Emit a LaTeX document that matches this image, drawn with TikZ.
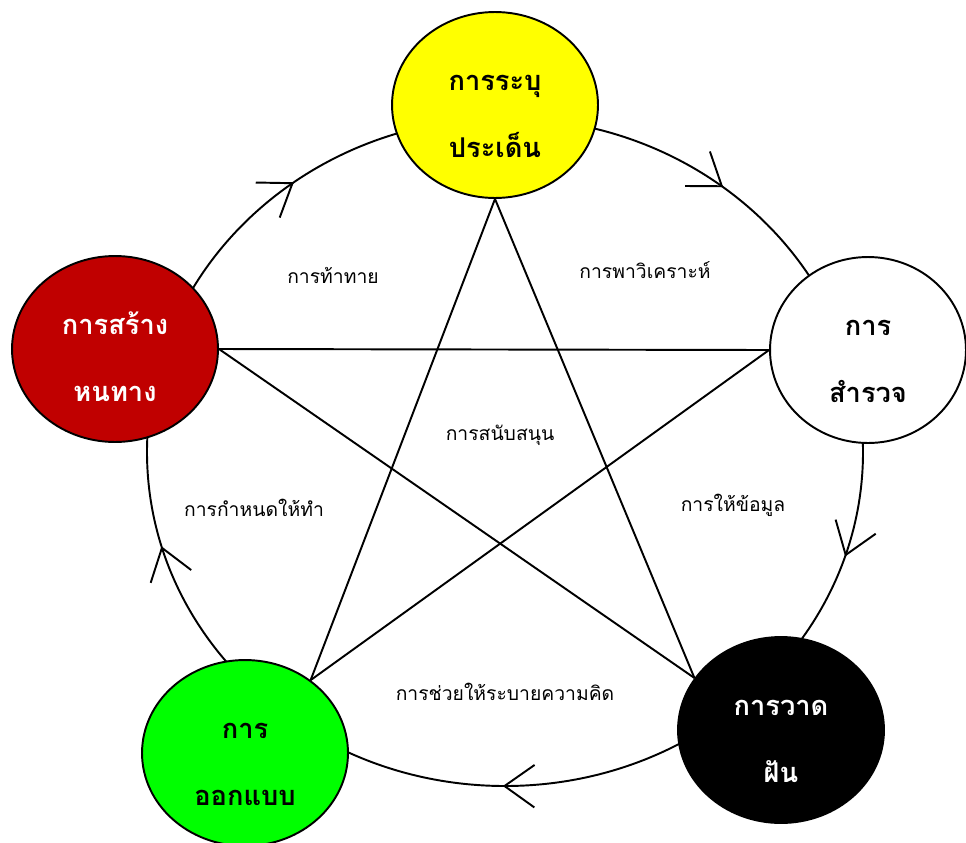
\documentclass[tikz,border=0pt]{standalone}
\usepackage{fontspec}
\newfontfamily\thaifont[Script=Thai]{Loma}
\usetikzlibrary{
    arrows.meta,
    decorations.markings,
    shapes.geometric
}
\definecolor{routered}{RGB}{192,0,0}
\definecolor{ideayellow}{RGB}{255,255,0}
\definecolor{designgreen}{RGB}{0,255,0}
\tikzset{chevron/.tip={Straight Barb[length=6mm, width=8.5mm]}}
\newcommand{\stagelift}{\rule{0pt}{22pt}}

\begin{document}
\begin{tikzpicture}[
    x=0.02cm, y=-0.02cm,
    every node/.style={font=\thaifont},
    stage/.style={ellipse, draw=black, line width=1.1pt, minimum width=4.12cm, minimum height=3.72cm,
        inner sep=0pt, align=center,
        font=\thaifont\bfseries\fontsize{15.5pt}{38pt}\selectfont},
    link/.style={line width=1.1pt, draw=black},
    ring/.style={line width=1.1pt, postaction={decorate}, decoration={markings,
        mark=at position 0.049 with {\arrow{chevron}},
        mark=at position 0.251 with {\arrow{chevron}},
        mark=at position 0.456 with {\arrow{chevron}},
        mark=at position 0.647 with {\arrow{chevron}},
        mark=at position 0.857 with {\arrow{chevron}}}},
    flow_label/.style={font=\thaifont\fontsize{11pt}{13pt}\selectfont}
]
\useasboundingbox (0,0) rectangle (966,842);

% the cycle
\draw[ring] (505,452) ellipse [x radius=358, y radius=334];

% stages
\node[stage, fill=ideayellow] (identify) at (495,105) {\stagelift การระบุ\\ประเด็น};
\node[stage, fill=white, minimum width=3.92cm] (explore) at (868,350) {\stagelift การ\\สำรวจ};
\node[stage, fill=black, text=white] (dream) at (781,730) {\stagelift การวาด\\ฝัน};
\node[stage, fill=designgreen] (design) at (245,753) {\stagelift การ\\ออกแบบ};
\node[stage, fill=routered, text=white] (route) at (115,349) {\stagelift การสร้าง\\หนทาง};

% star
\draw[link] (identify.south) -- (design.48);
\draw[link] (identify.south) -- (dream.149);
\draw[link] (route.east) -- (explore.west);
\draw[link] (route.east) -- (dream.149);
\draw[link] (explore.west) -- (design.48);

% labels
\node[flow_label] (challenge) at (333,275) {การท้าทาย};
\node[flow_label] (analyse) at (645,270) {การพาวิเคราะห์};
\node[flow_label] (support) at (500,435) {การสนับสนุน};
\node[flow_label] (inform) at (733,505) {การให้ข้อมูล};
\node[flow_label] (assign) at (254,508) {การกำหนดให้ทำ};
\node[flow_label] (release) at (505,692) {การช่วยให้ระบายความคิด};

\end{tikzpicture}
\end{document}
